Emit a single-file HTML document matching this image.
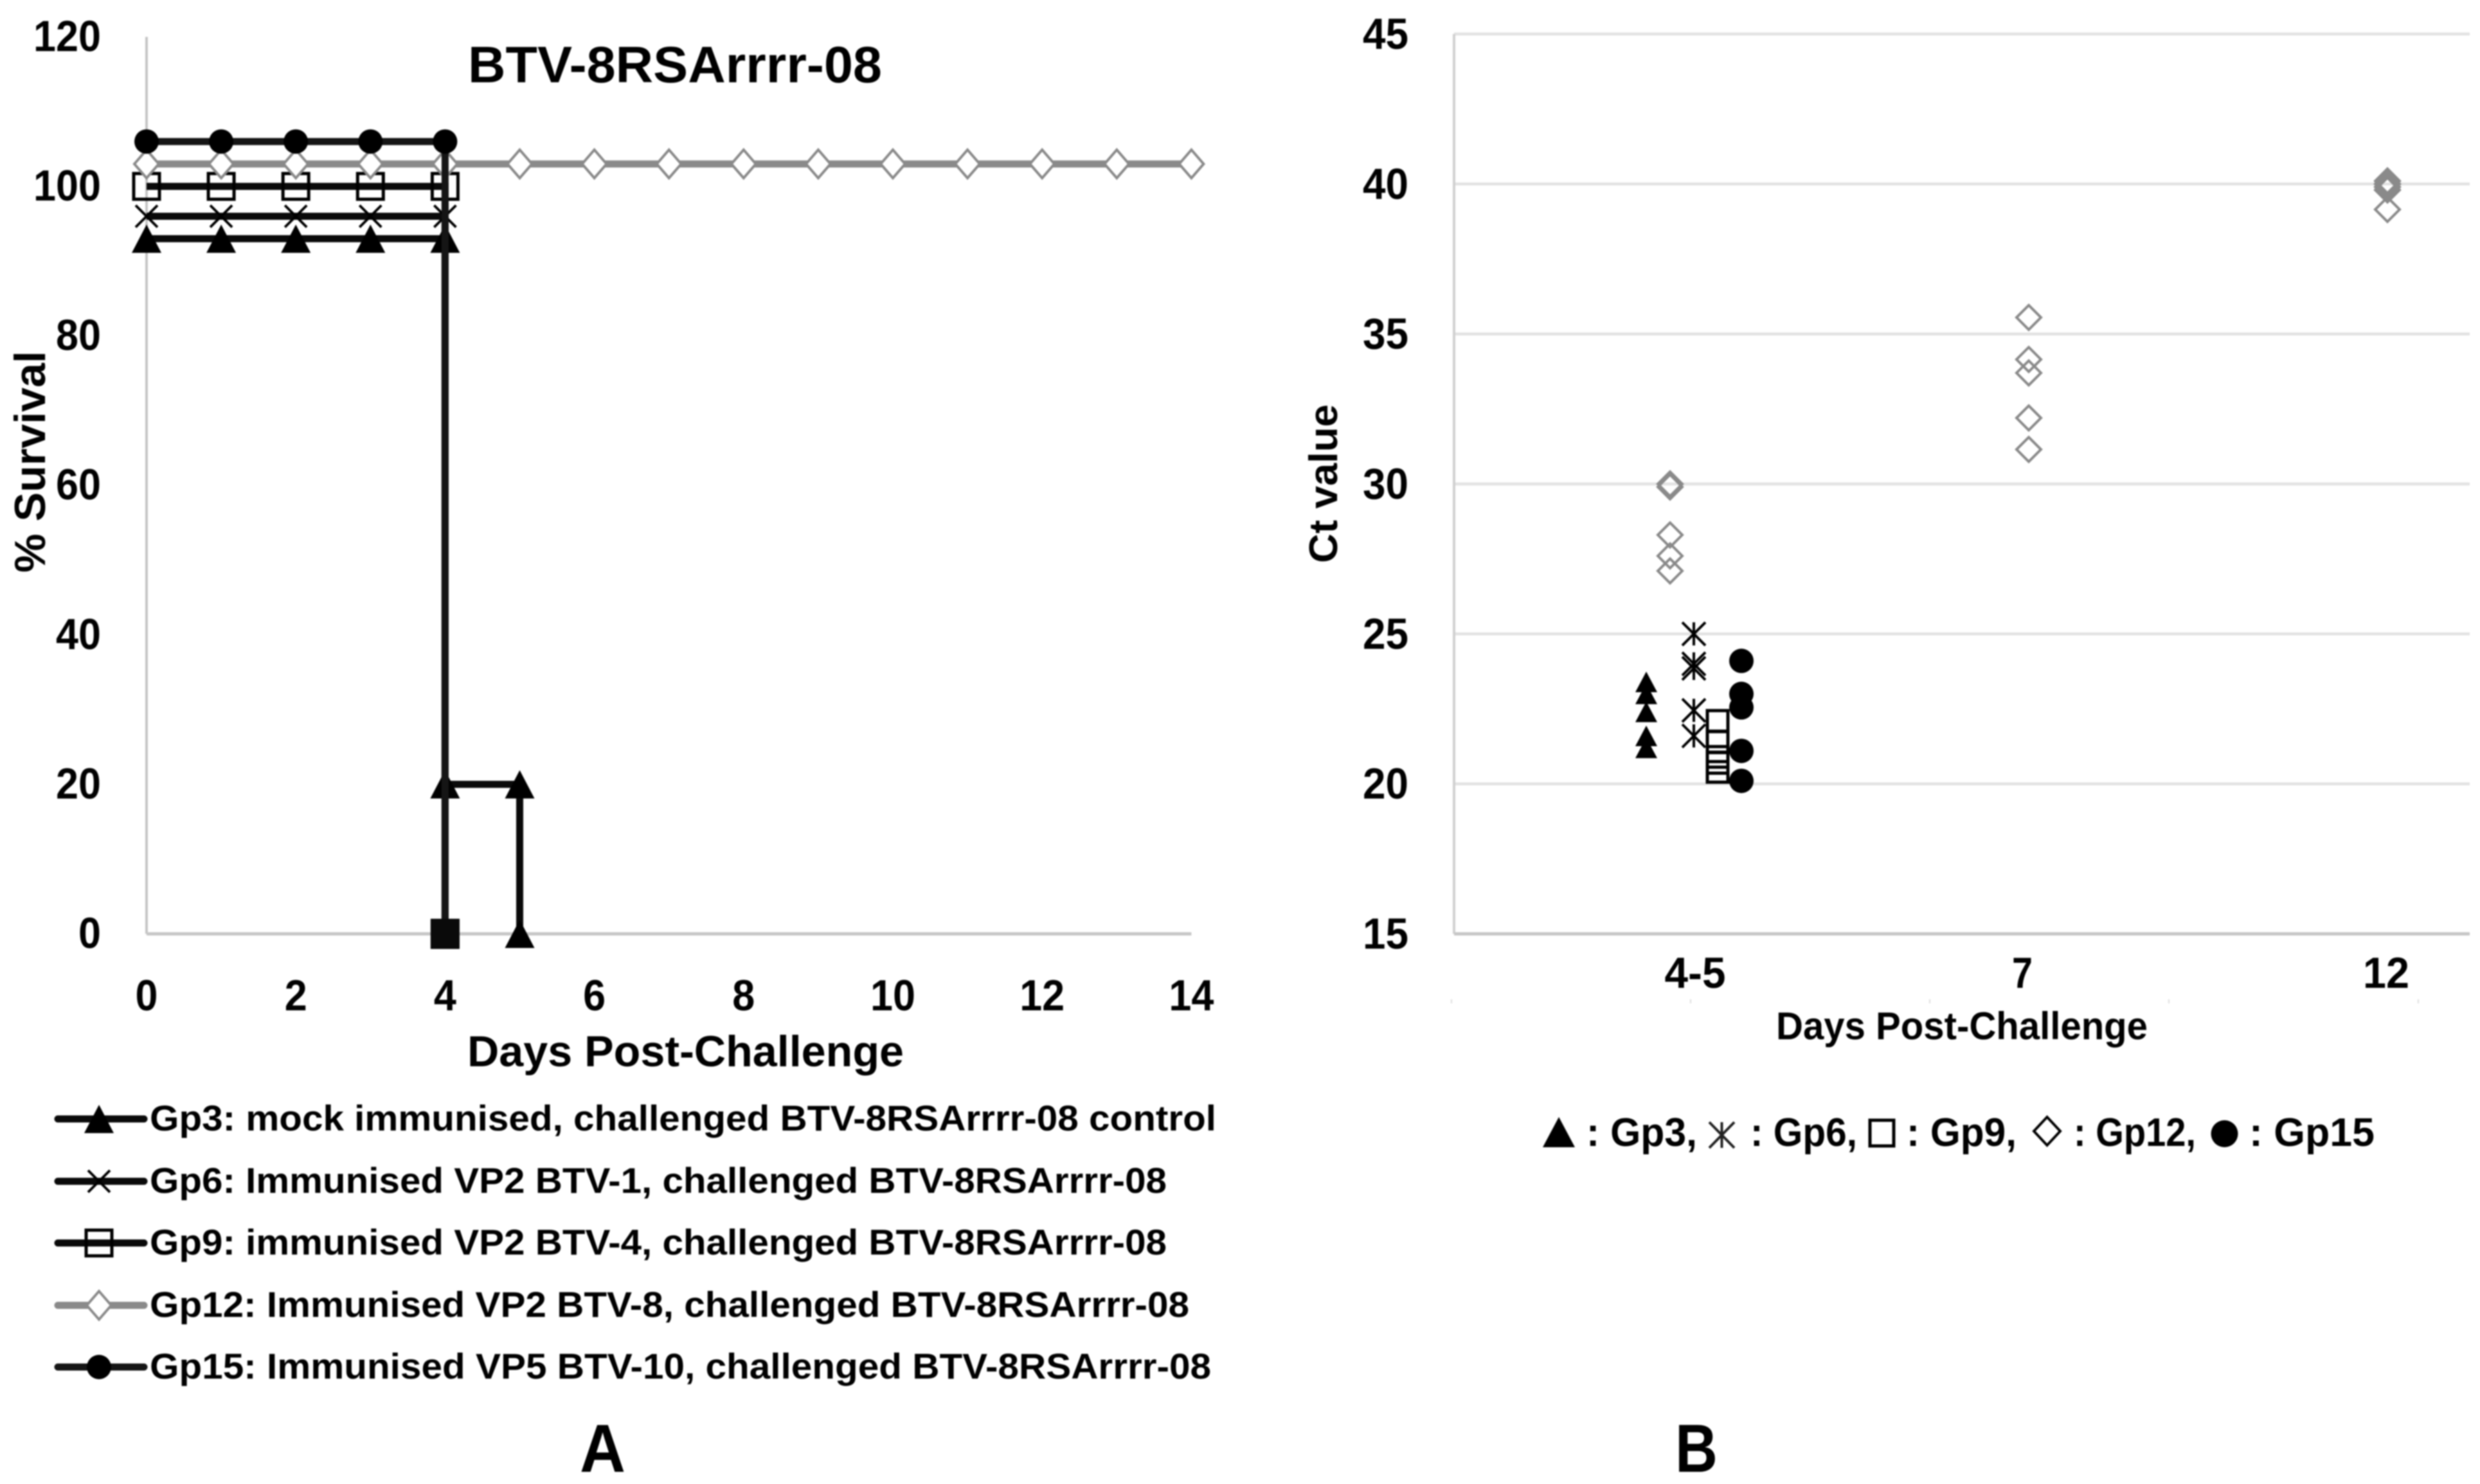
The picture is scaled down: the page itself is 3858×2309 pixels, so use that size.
<!DOCTYPE html>
<html lang="en">
<head>
<meta charset="utf-8">
<title>BTV-8RSArrrr-08 survival and Ct value charts</title>
<style>
html,body{margin:0;padding:0;background:#fff}
svg{display:block;filter:blur(1px)}
text{font-family:"Liberation Sans",Arial,sans-serif;font-weight:700;fill:#000}
</style>
</head>
<body>
<svg id="figure" xmlns="http://www.w3.org/2000/svg" width="3858" height="2309" viewBox="0 0 3858 2309">
  <rect x="0" y="0" width="3858" height="2309" fill="#fff"/>
  <g id="panelA">
    <text x="728" y="128" font-size="80" textLength="644" lengthAdjust="spacingAndGlyphs">BTV-8RSArrrr-08</text>
    <text transform="translate(70,891) rotate(-90)" font-size="68" textLength="345" lengthAdjust="spacingAndGlyphs">% Survival</text>
    <text x="727" y="1659" font-size="68" textLength="679" lengthAdjust="spacingAndGlyphs">Days Post-Challenge</text>
  </g>
  <g id="legendA">
    <text x="233" y="1759" font-size="56" textLength="1659" lengthAdjust="spacingAndGlyphs">Gp3: mock immunised, challenged BTV-8RSArrrr-08 control</text>
    <text x="233" y="1856" font-size="56" textLength="1582" lengthAdjust="spacingAndGlyphs">Gp6: Immunised VP2 BTV-1, challenged BTV-8RSArrrr-08</text>
    <text x="233" y="1952" font-size="56" textLength="1582" lengthAdjust="spacingAndGlyphs">Gp9: immunised VP2 BTV-4, challenged BTV-8RSArrrr-08</text>
    <text x="233" y="2049" font-size="56" textLength="1617" lengthAdjust="spacingAndGlyphs">Gp12: Immunised VP2 BTV-8, challenged BTV-8RSArrrr-08</text>
    <text x="233" y="2145" font-size="56" textLength="1651" lengthAdjust="spacingAndGlyphs">Gp15: Immunised VP5 BTV-10, challenged BTV-8RSArrrr-08</text>
  </g>
  <text x="902" y="2290" font-size="106" textLength="71" lengthAdjust="spacingAndGlyphs">A</text>
  <g id="panelB">
    <text transform="translate(2080,876) rotate(-90)" font-size="62" textLength="247" lengthAdjust="spacingAndGlyphs">Ct value</text>
    <text x="2763" y="1617" font-size="60" textLength="578" lengthAdjust="spacingAndGlyphs">Days Post-Challenge</text>
  </g>
  <g id="legendB">
    <text x="2468" y="1783" font-size="62" textLength="172" lengthAdjust="spacingAndGlyphs">: Gp3,</text>
    <text x="2723" y="1783" font-size="62" textLength="166" lengthAdjust="spacingAndGlyphs">: Gp6,</text>
    <text x="2966" y="1783" font-size="62" textLength="171" lengthAdjust="spacingAndGlyphs">: Gp9,</text>
    <text x="3226" y="1783" font-size="62" textLength="190" lengthAdjust="spacingAndGlyphs">: Gp12,</text>
    <text x="3499" y="1783" font-size="62" textLength="195" lengthAdjust="spacingAndGlyphs">: Gp15</text>
  </g>
  <text x="2606" y="2290" font-size="106" textLength="66" lengthAdjust="spacingAndGlyphs">B</text>
</svg>
<script>
// ---- Chart A data ----
const survivalYTicks = [0, 20, 40, 60, 80, 100, 120];
const survivalXTicks = [0, 2, 4, 6, 8, 10, 12, 14];
const gp3Days = [0, 1, 2, 3, 4, 4, 5, 5];
const gp3Survival = [93, 93, 93, 93, 93, 20, 20, 0];
const gp6Days = [0, 1, 2, 3, 4, 4];
const gp6Survival = [96, 96, 96, 96, 96, 0];
const gp9Days = [0, 1, 2, 3, 4, 4];
const gp9Survival = [100, 100, 100, 100, 100, 0];
const gp12Days = [0, 1, 2, 3, 4, 5, 6, 7, 8, 9, 10, 11, 12, 13, 14];
const gp12Survival = [103, 103, 103, 103, 103, 103, 103, 103, 103, 103, 103, 103, 103, 103, 103];
const gp15Days = [0, 1, 2, 3, 4, 4];
const gp15Survival = [106, 106, 106, 106, 106, 0];

// ---- Chart B data ----
const ctYTicks = [15, 20, 25, 30, 35, 40, 45];
const ctCategories = ['4-5', '7', '12'];
const ctGp3Early = [23.4, 23.0, 22.4, 21.6, 21.2];
const ctGp6Early = [25.0, 24.0, 23.85, 22.45, 21.6];
const ctGp9Early = [22.1, 21.4, 20.9, 20.7, 20.4];
const ctGp12Early = [30.0, 29.9, 28.3, 27.6, 27.1];
const ctGp12Day7 = [35.55, 34.15, 33.7, 32.2, 31.15];
const ctGp12Day12 = [40.1, 40.0, 39.9, 39.8, 39.15];
const ctGp15Early = [24.1, 23.0, 22.55, 21.1, 20.1];

// ---- Axis functions ----
const xA = d => 228 + d * 116.1;
const yA = v => 1453 - v * 11.63;
const xB = (categoryIndex, slot) => 2598 + categoryIndex * 558 + slot * 37;
const yB = v => 1453 - (v - 15) * 46.67;

const NS = 'http://www.w3.org/2000/svg';
const DARK = '#0a0a0a';
const GREY = '#8a8a8a';

function add(parent, tag, attrs, name) {
  const el = document.createElementNS(NS, tag);
  Object.keys(attrs).forEach(k => el.setAttribute(k, attrs[k]));
  
  
  parent.appendChild(el);
  return el;
}
function label(parent, str, x, y, anchor, width, name) {
  const el = add(parent, 'text', {x: x, y: y, 'font-size': 68, 'text-anchor': anchor, textLength: width, lengthAdjust: 'spacingAndGlyphs'}, name);
  el.textContent = str;
  return el;
}

const sizesA = {triHw: 23, triUp: 22, triDown: 22, sq: 20, dHw: 19, dHh: 22, r: 19, xH: 17, asterisk: false};
const sizesB = {triHw: 17, triUp: 16, triDown: 16, sq: 16, dHw: 19, dHh: 19, r: 19, xH: 18, asterisk: true};

function marker(parent, kind, cx, cy, s, name) {
  if (kind === 'triangle') {
    add(parent, 'polygon', {points: `${cx},${cy - s.triUp} ${cx + s.triHw},${cy + s.triDown} ${cx - s.triHw},${cy + s.triDown}`, fill: '#000'}, name);
  } else if (kind === 'cross') {
    let d = `M${cx - s.xH},${cy - s.xH}L${cx + s.xH},${cy + s.xH}M${cx + s.xH},${cy - s.xH}L${cx - s.xH},${cy + s.xH}`;
    if (s.asterisk) d += `M${cx},${cy - s.xH}L${cx},${cy + s.xH}`;
    add(parent, 'path', {d: d, fill: 'none', stroke: '#000', 'stroke-width': 4}, name);
  } else if (kind === 'square') {
    add(parent, 'rect', {x: cx - s.sq, y: cy - s.sq, width: 2 * s.sq, height: 2 * s.sq, fill: 'none', stroke: '#000', 'stroke-width': 5}, name);
  } else if (kind === 'diamond') {
    add(parent, 'polygon', {points: `${cx},${cy - s.dHh} ${cx + s.dHw},${cy} ${cx},${cy + s.dHh} ${cx - s.dHw},${cy}`, fill: s.asterisk ? 'none' : '#fff', stroke: GREY, 'stroke-width': 4}, name);
  } else {
    add(parent, 'circle', {cx: cx, cy: cy, r: s.r, fill: '#000'}, name);
  }
}

// ---- Chart A ----
const panelA = document.getElementById('panelA');
add(panelA, 'line', {x1: xA(0), y1: yA(120), x2: xA(0), y2: yA(0), stroke: '#c4c4c4', 'stroke-width': 4}, 'chart-a-y-axis');
add(panelA, 'line', {x1: xA(0), y1: yA(0), x2: xA(14), y2: yA(0), stroke: '#c6c6c6', 'stroke-width': 5}, 'chart-a-x-axis');
survivalYTicks.forEach(t => {
  label(panelA, String(t), 157, yA(t) + 22, 'end', String(t).length * 35, 'chart-a-y-tick-' + t);
});
survivalXTicks.forEach(t => {
  label(panelA, String(t), xA(t), 1572, 'middle', String(t).length * 35, 'chart-a-x-tick-' + t);
});

const survivalSeries = [
  {id: 'gp3', kind: 'triangle', color: DARK, days: gp3Days, values: gp3Survival},
  {id: 'gp6', kind: 'cross', color: DARK, days: gp6Days, values: gp6Survival},
  {id: 'gp9', kind: 'square', color: DARK, days: gp9Days, values: gp9Survival},
  {id: 'gp12', kind: 'diamond', color: GREY, days: gp12Days, values: gp12Survival},
  {id: 'gp15', kind: 'circle', color: '#151515', days: gp15Days, values: gp15Survival}
];
survivalSeries.forEach(s => {
  const g = add(panelA, 'g', {}, 'series-' + s.id);
  const pts = s.days.map((d, i) => xA(d) + ',' + yA(s.values[i])).join(' ');
  add(g, 'polyline', {points: pts, fill: 'none', stroke: s.color, 'stroke-width': 11, 'stroke-linejoin': 'miter'}, 'line-' + s.id);
  s.days.forEach((d, i) => {
    marker(g, s.kind, xA(d), yA(s.values[i]), sizesA, 'point-' + s.id + '-day-' + d + '-value-' + s.values[i]);
  });
});
// Vertical drops of Gp3/6/9/15 share the day-4 line; their zero-survival markers overlap to a solid block.
add(panelA, 'rect', {x: xA(4) - 22.5, y: yA(0) - 23.5, width: 45, height: 47, fill: '#0a0a0a'}, 'overlapping-zero-markers');

// ---- Chart A legend ----
const legendA = document.getElementById('legendA');
const legendRows = [
  ['gp3', 'triangle', DARK, 1741],
  ['gp6', 'cross', DARK, 1838],
  ['gp9', 'square', DARK, 1934],
  ['gp12', 'diamond', GREY, 2031],
  ['gp15', 'circle', '#151515', 2127]
];
legendRows.forEach(r => {
  add(legendA, 'line', {x1: 90, y1: r[3], x2: 224, y2: r[3], stroke: r[2], 'stroke-width': 11, 'stroke-linecap': 'round'}, 'legend-line-' + r[0]);
  marker(legendA, r[1], 154, r[3], sizesA, 'legend-marker-' + r[0]);
});

// ---- Chart B ----
const panelB = document.getElementById('panelB');
ctYTicks.forEach(t => {
  if (t === 15) return;
  add(panelB, 'line', {x1: 2262, y1: yB(t), x2: 3842, y2: yB(t), stroke: '#e2e2e2', 'stroke-width': 4.5}, 'gridline-' + t);
});
add(panelB, 'line', {x1: 2262, y1: yB(45), x2: 2262, y2: yB(15), stroke: '#d0d0d0', 'stroke-width': 4}, 'chart-b-y-axis');
add(panelB, 'line', {x1: 2262, y1: yB(15), x2: 3842, y2: yB(15), stroke: '#c6c6c6', 'stroke-width': 5}, 'chart-b-x-axis');
[2258, 2630, 3002, 3374, 3762].forEach((x, i) => {
  add(panelB, 'line', {x1: x, y1: 1555, x2: x, y2: 1561, stroke: '#dddddd', 'stroke-width': 2}, 'chart-b-faint-tick-' + i);
});
ctYTicks.forEach(t => {
  label(panelB, String(t), 2191, yB(t) + 23, 'end', 71, 'chart-b-y-tick-' + t);
});
const catLabelShift = [39, -10, -2];
const catLabelWidth = [95, 32, 72];
ctCategories.forEach((c, i) => {
  label(panelB, c, xB(i, 0) + catLabelShift[i], 1537, 'middle', catLabelWidth[i], 'chart-b-x-tick-' + c);
});

const ctSeries = [
  {id: 'gp3', kind: 'triangle', slot: -1, cat: 0, values: ctGp3Early},
  {id: 'gp6', kind: 'cross', slot: 1, cat: 0, values: ctGp6Early},
  {id: 'gp9', kind: 'square', slot: 2, cat: 0, values: ctGp9Early},
  {id: 'gp12', kind: 'diamond', slot: 0, cat: 0, values: ctGp12Early},
  {id: 'gp12', kind: 'diamond', slot: 0, cat: 1, values: ctGp12Day7},
  {id: 'gp12', kind: 'diamond', slot: 0, cat: 2, values: ctGp12Day12},
  {id: 'gp15', kind: 'circle', slot: 3, cat: 0, values: ctGp15Early}
];
ctSeries.forEach(s => {
  const g = add(panelB, 'g', {}, 'ct-series-' + s.id + '-day-' + ctCategories[s.cat]);
  s.values.forEach(v => {
    marker(g, s.kind, xB(s.cat, s.slot), yB(v), sizesB, 'ct-point-' + s.id + '-' + v);
  });
});

// ---- Chart B legend glyphs ----
const legendB = document.getElementById('legendB');
add(legendB, 'polygon', {points: '2425,1738 2450,1785 2400,1785', fill: '#000'}, 'legend-b-triangle');
add(legendB, 'path', {d: 'M2659,1746L2698,1786M2698,1746L2659,1786M2678.5,1746V1786', fill: 'none', stroke: '#222', 'stroke-width': 4}, 'legend-b-asterisk');
add(legendB, 'rect', {x: 2909, y: 1743, width: 37, height: 40, fill: 'none', stroke: '#000', 'stroke-width': 5}, 'legend-b-square');
add(legendB, 'polygon', {points: '3184.5,1738 3205,1760 3184.5,1782 3164,1760', fill: 'none', stroke: '#000', 'stroke-width': 4}, 'legend-b-diamond');
add(legendB, 'circle', {cx: 3460.5, cy: 1764, r: 21, fill: '#000'}, 'legend-b-circle');
</script>
</body>
</html>
